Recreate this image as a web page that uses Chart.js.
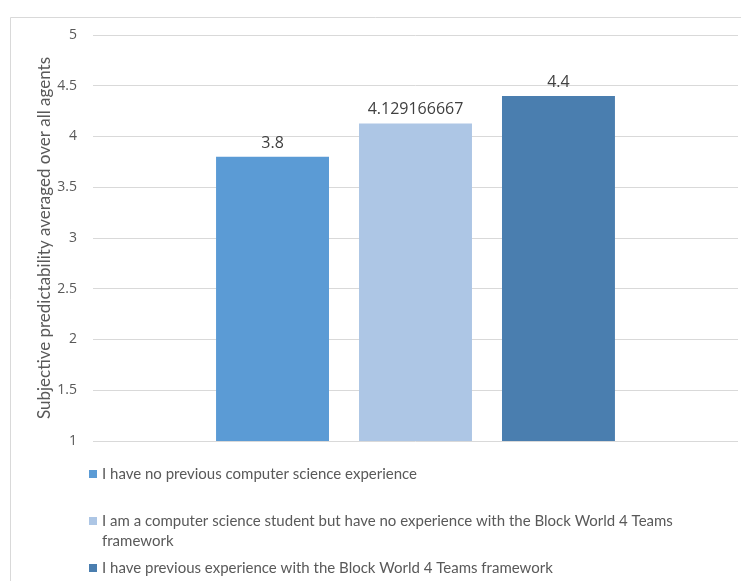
<!DOCTYPE html>
<html>
<head>
<meta charset="utf-8">
<script src="https://cdn.jsdelivr.net/npm/chart.js@4.4.0/dist/chart.umd.min.js"></script>
<style>
  html, body { margin: 0; padding: 0; background: #fff; }
  #wrap { width: 741px; height: 581px; position: relative; }
</style>
</head>
<body>
<div id="wrap"><canvas id="predChart" width="741" height="581"></canvas></div>
<script>
// data
const categories = [""];
const seriesNames = [
    "I have no previous computer science experience",
    "I am a computer science student but have no experience with the Block World 4 Teams framework",
    "I have previous experience with the Block World 4 Teams framework"
];
const seriesValues = [3.8, 4.129166667, 4.4];
const valueLabels = ["3.8", "4.129166667", "4.4"];
const seriesColors = ["#5B9BD5", "#ADC6E5", "#4A7EAF"];
const yTicks = [1, 1.5, 2, 2.5, 3, 3.5, 4, 4.5, 5];

const FONT = "Lato, 'Noto Sans', sans-serif";
const NUMFONT = "'Open Sans', 'Noto Sans', sans-serif";
const GREY = "#595959";

// frame round the chart (only left and top edge are visible)
const framePlugin = {
    id: 'frame',
    beforeDraw(chart) {
        const ctx = chart.ctx;
        ctx.save();
        ctx.fillStyle = '#fff';
        ctx.fillRect(0, 0, chart.width, chart.height);
        ctx.strokeStyle = '#D9D9D9';
        ctx.lineWidth = 1;
        ctx.beginPath();
        ctx.moveTo(10.5, chart.height);
        ctx.lineTo(10.5, 17.5);
        ctx.lineTo(chart.width, 17.5);
        ctx.stroke();
        ctx.restore();
    }
};

// value labels above bars
const labelPlugin = {
    id: 'valueLabels',
    afterDatasetsDraw(chart) {
        const ctx = chart.ctx;
        ctx.save();
        ctx.font = "16px " + NUMFONT;
        ctx.fillStyle = "#404040";
        ctx.textAlign = 'center';
        ctx.textBaseline = 'alphabetic';
        chart.data.datasets.forEach((ds, i) => {
            const bar = chart.getDatasetMeta(i).data[0];
            ctx.fillText(valueLabels[i], bar.x, bar.y - 9);
        });
        ctx.restore();
    }
};

// legend below, long entry wraps onto two lines
const legendPlugin = {
    id: 'bottomLegend',
    afterDraw(chart) {
        const ctx = chart.ctx;
        const rows = [
            { y: 474, lines: [seriesNames[0]] },
            { y: 521, lines: ["I am a computer science student but have no experience with the Block World 4 Teams", "framework"] },
            { y: 568, lines: [seriesNames[2]] }
        ];
        ctx.save();
        ctx.font = "15px " + FONT;
        ctx.textBaseline = 'middle';
        rows.forEach((r, i) => {
            ctx.fillStyle = seriesColors[i];
            ctx.fillRect(89, r.y - 4, 8, 8);
            ctx.fillStyle = GREY;
            r.lines.forEach((t, k) => ctx.fillText(t, 102, r.y + k * 20));
        });
        ctx.restore();
    }
};

const datasets = seriesNames.map((name, i) => ({
    label: name,
    data: [seriesValues[i]],
    backgroundColor: seriesColors[i],
    borderWidth: 0,
    categoryPercentage: 0.665,
    barPercentage: 0.79
}));

new Chart(document.getElementById('predChart'), {
    type: 'bar',
    data: { labels: categories, datasets: datasets },
    plugins: [framePlugin, labelPlugin, legendPlugin],
    options: {
        responsive: false,
        animation: false,
        layout: { padding: { left: 10, right: 3, top: 35, bottom: 140 } },
        plugins: {
            legend: { display: false },
            tooltip: { enabled: false }
        },
        scales: {
            x: { display: false },
            y: {
                min: 1,
                max: 5,
                afterBuildTicks(scale) { scale.ticks = yTicks.map(v => ({ value: v })); },
                afterFit(scale) { scale.width = 83; },
                grid: { color: '#D9D9D9', drawTicks: false },
                border: { display: false },
                ticks: {
                    color: GREY,
                    padding: 16,
                    font: { family: NUMFONT, size: 14 },
                    callback: v => String(v)
                },
                title: {
                    display: true,
                    text: 'Subjective predictability averaged over all agents',
                    color: GREY,
                    font: { family: FONT, size: 17 },
                    padding: { top: 24, bottom: 0 }
                }
            }
        }
    }
});
</script>
</body>
</html>
